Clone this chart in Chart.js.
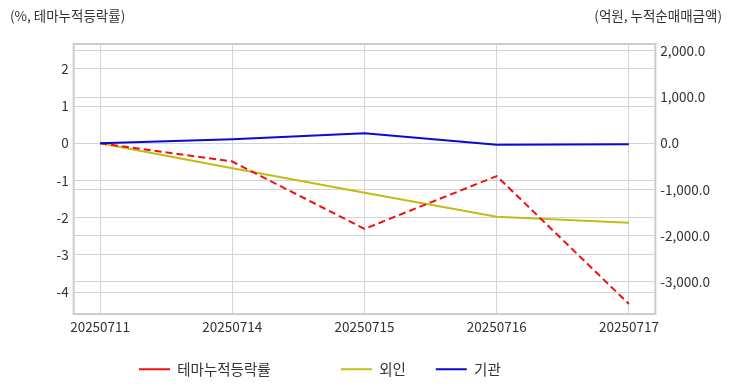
<!DOCTYPE html>
<html>
<head>
<meta charset="utf-8">
<script src="https://cdn.jsdelivr.net/npm/chart.js@4"></script>
<style>
  html, body { margin: 0; padding: 0; background: #fff; }
  #wrap { width: 732px; height: 392px; }
</style>
</head>
<body>
<div id="wrap"><canvas id="chart"></canvas></div>
<script>
// 날짜
const dates = ['20250711', '20250714', '20250715', '20250716', '20250717'];

// 테마누적등락률 (%), 왼쪽 축
const themeRate = [0, -0.49, -2.30, -0.88, -4.32];

// 누적순매매금액 (억원), 오른쪽 축
const foreignNet = [0, -541, -1069, -1589, -1719];
const instNet = [0, 87, 216, -30, -18];

const leftTicks = [-4, -3, -2, -1, 0, 1, 2];
const rightTicks = [-3000, -2000, -1000, 0, 1000, 2000];

Chart.defaults.font.family = "'Noto Sans CJK KR', 'Noto Sans', sans-serif";
Chart.defaults.font.size = 13.5;
Chart.defaults.color = '#333';

const gridColor = '#d4d4d4';

const toPoints = arr => arr.map((v, i) => ({ x: i, y: v }));

// 상단 단위 표기 + 플롯 테두리
const decor = {
    id: 'decor',
    afterLayout(chart) {
        const lg = chart.legend;
        if (lg) {
            lg.left = 112.25;
            lg.top -= 5;
            lg.bottom -= 5;
        }
    },
    beforeDatasetsDraw(chart) {
        const { ctx, chartArea: a } = chart;
        ctx.save();
        ctx.strokeStyle = '#cccccc';
        ctx.lineWidth = 2;
        ctx.strokeRect(a.left, a.top, a.right - a.left, a.bottom - a.top);
        ctx.restore();
    },
    afterDraw(chart) {
        const { ctx } = chart;
        ctx.save();
        ctx.font = "13.5px 'Noto Sans CJK KR', sans-serif";
        ctx.fillStyle = '#333';
        ctx.textBaseline = 'middle';
        ctx.textAlign = 'left';
        ctx.fillText('(%, 테마누적등락률)', 10, 16);
        ctx.textAlign = 'right';
        ctx.fillText('(억원, 누적순매매금액)', 722, 16);
        ctx.restore();
    }
};

const ctx = document.getElementById('chart').getContext('2d');
const chart = new Chart(ctx, {
    type: 'line',
    data: {
        datasets: [
            {
                label: '테마누적등락률',
                data: toPoints(themeRate),
                yAxisID: 'y',
                borderColor: '#ee1111',
                backgroundColor: '#ee1111',
                borderWidth: 2,
                borderDash: [7, 4],
                pointRadius: 0,
                tension: 0,
                order: 1
            },
            {
                label: '외인',
                data: toPoints(foreignNet),
                yAxisID: 'y1',
                borderColor: '#c4bc14',
                backgroundColor: '#c4bc14',
                borderWidth: 2,
                pointRadius: 0,
                tension: 0,
                order: 2
            },
            {
                label: '기관',
                data: toPoints(instNet),
                yAxisID: 'y1',
                borderColor: '#0a0ad6',
                backgroundColor: '#0a0ad6',
                borderWidth: 2,
                pointRadius: 0,
                tension: 0,
                order: 0
            }
        ]
    },
    options: {
        responsive: true,
        maintainAspectRatio: false,
        animation: false,
        layout: {
            padding: { top: 44, left: 51.5, right: 17, bottom: 0.5 }
        },
        plugins: {
            legend: {
                position: 'bottom',
                align: 'start',
                labels: {
                    usePointStyle: true,
                    pointStyle: 'line',
                    pointStyleWidth: 31,
                    padding: 26.75,
                    color: '#333',
                    font: { size: 14.5 },
                    sort: (a, b) => a.datasetIndex - b.datasetIndex,
                    generateLabels(chart) {
                        const items = Chart.defaults.plugins.legend.labels.generateLabels(chart);
                        items.forEach(it => {
                            if (it.datasetIndex === 0) it.text += '\u3000\u3000\u3000';
                            if (it.datasetIndex === 1) it.text += ' ';
                        });
                        return items;
                    }
                }
            },
            tooltip: { enabled: false }
        },
        scales: {
            x: {
                type: 'linear',
                min: -0.2,
                max: 4.2,
                grid: { color: gridColor, drawTicks: false },
                border: { display: false },
                ticks: {
                    stepSize: 1,
                    includeBounds: false,
                    autoSkip: false,
                    maxRotation: 0,
                    padding: 5,
                    callback: v => dates[v] ?? ''
                }
            },
            y: {
                position: 'left',
                min: -4.59,
                max: 2.67,
                grid: { color: gridColor, drawTicks: false },
                border: { display: false },
                afterBuildTicks: axis => { axis.ticks = leftTicks.map(v => ({ value: v })); },
                ticks: {
                    padding: 5,
                    callback: v => String(v)
                }
            },
            y1: {
                position: 'right',
                min: -3695,
                max: 2150,
                grid: { color: gridColor, drawTicks: false },
                border: { display: false },
                afterBuildTicks: axis => { axis.ticks = rightTicks.map(v => ({ value: v })); },
                ticks: {
                    padding: 5,
                    callback: v => v.toLocaleString('en-US', { minimumFractionDigits: 1, maximumFractionDigits: 1 })
                }
            }
        }
    },
    plugins: [decor]
});
</script>
</body>
</html>
